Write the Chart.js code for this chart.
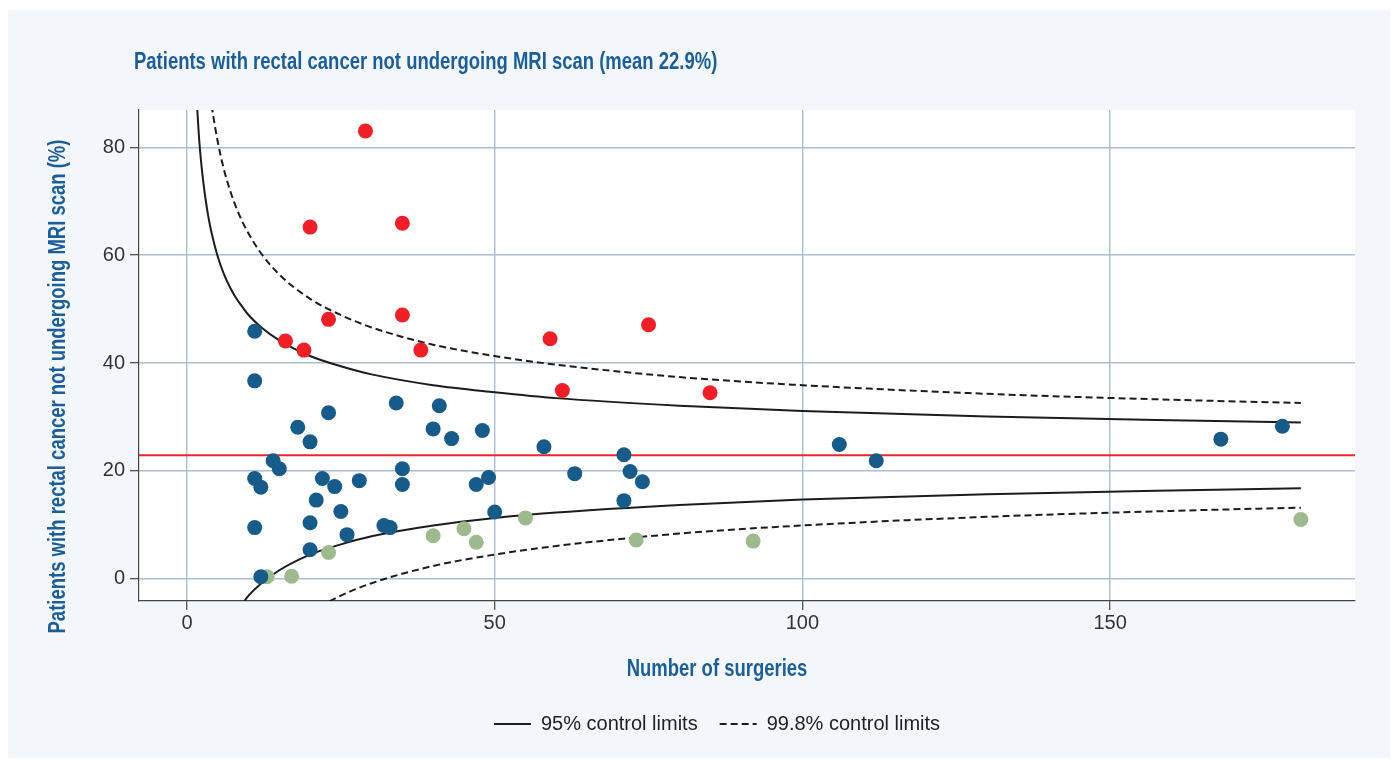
<!DOCTYPE html>
<html>
<head>
<meta charset="utf-8">
<title>Funnel plot – rectal cancer MRI</title>
<script src="https://cdn.jsdelivr.net/npm/chart.js@4.4.1/dist/chart.umd.min.js"></script>
<style>
  html, body { margin: 0; padding: 0; background: #ffffff; }
  #wrap { width: 1394px; height: 760px; position: relative; }
</style>
</head>
<body>
<div id="wrap"><canvas id="funnel"></canvas></div>
<script>
// ---- Text ----
const chartTitle = 'Patients with rectal cancer not undergoing MRI scan (mean 22.9%)';
const xAxisTitle = 'Number of surgeries';
const yAxisTitle = 'Patients with rectal cancer not undergoing MRI scan (%)';
const limit95Label = '95% control limits';
const limit998Label = '99.8% control limits';

// ---- Axes ----
const xTicks = [0, 50, 100, 150];
const yTicks = [0, 20, 40, 60, 80];
const xRange = [-7.8, 189.8];
const yRange = [-4.1, 86.9];

// ---- Overall mean (%) ----
const meanRate = 22.9;

// ---- Units inside the 95% limits: number of surgeries / % without MRI ----
const withinN   = [11, 11, 34, 41, 23, 18, 40, 48, 20, 43, 14, 15, 11, 12, 22, 24, 28, 35, 35, 47, 49,
                   21, 25, 11, 20, 32, 33, 50, 26, 20, 12, 58, 63, 71, 72, 74, 71, 106, 112, 168, 178];
const withinPct = [45.9, 36.7, 32.6, 32.1, 30.8, 28.1, 27.8, 27.5, 25.4, 26.0, 21.9, 20.4, 18.6, 17.0, 18.6, 17.1, 18.2, 20.4, 17.5, 17.5, 18.8,
                   14.6, 12.5, 9.5, 10.4, 9.9, 9.5, 12.4, 8.2, 5.4, 0.4, 24.5, 19.5, 23.0, 19.9, 18.0, 14.5, 24.9, 21.9, 25.9, 28.3];

// ---- Units above the upper 95% limit ----
const aboveN   = [16, 19, 20, 23, 29, 35, 35, 38, 59, 61, 75, 85];
const abovePct = [44.1, 42.4, 65.2, 48.1, 83.0, 65.9, 48.9, 42.4, 44.5, 34.9, 47.1, 34.5];

// ---- Units below the lower 95% limit ----
const belowN   = [13, 17, 23, 40, 45, 47, 55, 73, 92, 181];
const belowPct = [0.4, 0.5, 4.9, 8.0, 9.3, 6.8, 11.3, 7.2, 7.0, 11.0];

// ---- Control limits (%) by number of surgeries ----
const limitN   = [1.5, 2, 2.5, 3, 3.5, 4, 5, 6, 7, 8, 9, 10, 12, 15, 20, 25, 30, 40, 50, 60, 80, 100, 130, 160, 181];
const upper95  = [90.2, 81.1, 75.0, 70.5, 66.9, 64.1, 59.7, 56.5, 54.0, 52.0, 50.4, 48.9, 46.7, 44.2, 41.3, 39.4, 37.9, 35.9, 34.6, 33.5, 32.1, 31.1, 30.1, 29.4, 29.0];
const lower95  = [null, null, null, null, null, null, null, null, null, -6.2, -4.6, -3.1, -0.9, 1.6, 4.5, 6.4, 7.9, 9.9, 11.3, 12.3, 13.7, 14.7, 15.7, 16.4, 16.8];
const upper998 = [null, null, null, 97.9, 92.3, 87.8, 81.0, 75.9, 72.0, 68.8, 66.2, 64.0, 60.4, 56.4, 51.9, 48.9, 46.6, 43.4, 41.3, 39.7, 37.4, 35.9, 34.3, 33.2, 32.6];
const lower998 = [null, null, null, null, null, null, null, null, null, null, null, null, null, null, -6.1, -3.1, -0.8, 2.4, 4.5, 6.1, 8.4, 9.9, 11.5, 12.6, 13.2];

// ---- Style ----
const COLORS = {
  panel: '#f3f7fc',
  plot: '#ffffff',
  within: '#175b8b',
  above: '#ee1f27',
  below: '#9db98e',
  limit: '#1c1c1c',
  mean: '#e8262c',
  grid: '#a9bdd6',
  axis: '#444444',
  tickText: '#333333',
  heading: '#1c5e97'
};
const HEADING_FONT = "bold 24px 'Liberation Sans', Arial, sans-serif";
const HEADING_SQUEEZE = 0.77;   // condensed look for the headings
const LIMIT_DASH = [7, 4];
const BODY_FONT = "'Liberation Sans', Arial, sans-serif";

const toPoints = (xs, ys) => xs.map((x, i) => ({ x: x, y: ys[i] })).filter(p => p.y !== null);

function lineSet(label, values, dashed, showInLegend) {
  return {
    label: label,
    data: toPoints(limitN, values),
    showLine: true,
    borderColor: COLORS.limit,
    backgroundColor: COLORS.limit,
    borderWidth: 2,
    borderDash: dashed ? LIMIT_DASH : [],
    pointRadius: 0,
    pointHoverRadius: 0,
    cubicInterpolationMode: 'monotone',
    order: 1,
    inLegend: showInLegend
  };
}

function pointSet(label, xs, ys, color) {
  return {
    label: label,
    data: toPoints(xs, ys),
    showLine: false,
    backgroundColor: color,
    borderColor: color,
    borderWidth: 0,
    pointRadius: 7.5,
    pointHoverRadius: 7.5,
    order: 0,
    inLegend: false
  };
}

// Panel + white plotting area behind everything
const panelBackground = {
  id: 'panelBackground',
  beforeDraw(chart) {
    const { ctx, chartArea: a } = chart;
    ctx.save();
    ctx.fillStyle = '#ffffff';
    ctx.fillRect(0, 0, chart.width, chart.height);
    ctx.fillStyle = COLORS.panel;
    ctx.fillRect(8, 10, chart.width - 12, chart.height - 12);
    ctx.fillStyle = COLORS.plot;
    ctx.fillRect(a.left, a.top, a.right - a.left, a.bottom - a.top);
    ctx.restore();
  }
};

// Condensed bold headings: chart title and both axis titles
function drawHeading(ctx, text, x, y, align, vertical) {
  ctx.save();
  ctx.translate(x, y);
  if (vertical) ctx.rotate(-Math.PI / 2);
  ctx.scale(HEADING_SQUEEZE, 1);
  ctx.font = HEADING_FONT;
  ctx.fillStyle = COLORS.heading;
  ctx.textAlign = align;
  ctx.textBaseline = 'alphabetic';
  ctx.fillText(text, 0, 0);
  ctx.restore();
}

const headings = {
  id: 'headings',
  afterDraw(chart) {
    const { ctx, chartArea: a } = chart;
    const pad = chart.options.layout.padding;
    const midX = (pad.left + chart.width - pad.right) / 2;
    drawHeading(ctx, chartTitle, a.left - 5, a.top - 41, 'left', false);
    drawHeading(ctx, xAxisTitle, midX, a.bottom + 75, 'center', false);
    drawHeading(ctx, yAxisTitle, a.left - 74, (a.top + a.bottom) / 2 + 31, 'center', true);
  }
};

const datasets = [
  {
    label: 'Mean',
    data: [{ x: xRange[0], y: meanRate }, { x: xRange[1], y: meanRate }],
    showLine: true,
    borderColor: COLORS.mean,
    borderWidth: 2,
    pointRadius: 0,
    pointHoverRadius: 0,
    order: 2,
    inLegend: false
  },
  lineSet(limit95Label, upper95, false, true),
  lineSet(limit95Label, lower95, false, false),
  lineSet(limit998Label, upper998, true, true),
  lineSet(limit998Label, lower998, true, false),
  pointSet('Within limits', withinN, withinPct, COLORS.within),
  pointSet('Above limits', aboveN, abovePct, COLORS.above),
  pointSet('Below limits', belowN, belowPct, COLORS.below)
];

// Legend entries drawn as line samples carrying each dataset's dash pattern
function limitLegendLabels(chart) {
  const base = Chart.defaults.plugins.legend.labels.generateLabels(chart);
  return base
    .filter(item => chart.data.datasets[item.datasetIndex].inLegend)
    .map(item => {
      const ds = chart.data.datasets[item.datasetIndex];
      return Object.assign(item, {
        pointStyle: 'line',
        lineDash: ds.borderDash || [],
        lineWidth: ds.borderWidth,
        strokeStyle: ds.borderColor,
        fillStyle: ds.borderColor
      });
    });
}

new Chart(document.getElementById('funnel'), {
  type: 'scatter',
  data: { datasets: datasets },
  plugins: [panelBackground, headings],
  options: {
    responsive: true,
    maintainAspectRatio: false,
    animation: false,
    events: [],
    layout: { padding: { top: 110, left: 79, right: 39, bottom: 16 } },
    plugins: {
      title: { display: false },
      tooltip: { enabled: false },
      legend: {
        position: 'bottom',
        labels: {
          usePointStyle: true,
          pointStyle: 'line',
          pointStyleWidth: 37,
          padding: 22,
          color: '#222222',
          font: { family: BODY_FONT, size: 20 },
          generateLabels: limitLegendLabels
        }
      }
    },
    scales: {
      x: {
        type: 'linear',
        min: xRange[0],
        max: xRange[1],
        afterBuildTicks: s => { s.ticks = xTicks.map(v => ({ value: v })); },
        afterFit: s => { s.height = 91; },
        border: { display: true, color: COLORS.axis, width: 1.2 },
        grid: { color: COLORS.grid, lineWidth: 1.4, tickColor: COLORS.axis, tickLength: 9, tickWidth: 1.2 },
        ticks: { color: COLORS.tickText, padding: 1, font: { family: BODY_FONT, size: 20 } },
        title: { display: false }
      },
      y: {
        type: 'linear',
        min: yRange[0],
        max: yRange[1],
        afterBuildTicks: s => { s.ticks = yTicks.map(v => ({ value: v })); },
        afterFit: s => { s.width = 60; },
        border: { display: true, color: COLORS.axis, width: 1.2 },
        grid: { color: COLORS.grid, lineWidth: 1.4, tickColor: COLORS.axis, tickLength: 9, tickWidth: 1.2 },
        ticks: { color: COLORS.tickText, padding: 5, font: { family: BODY_FONT, size: 20 } },
        title: { display: false }
      }
    }
  }
});
</script>
</body>
</html>
